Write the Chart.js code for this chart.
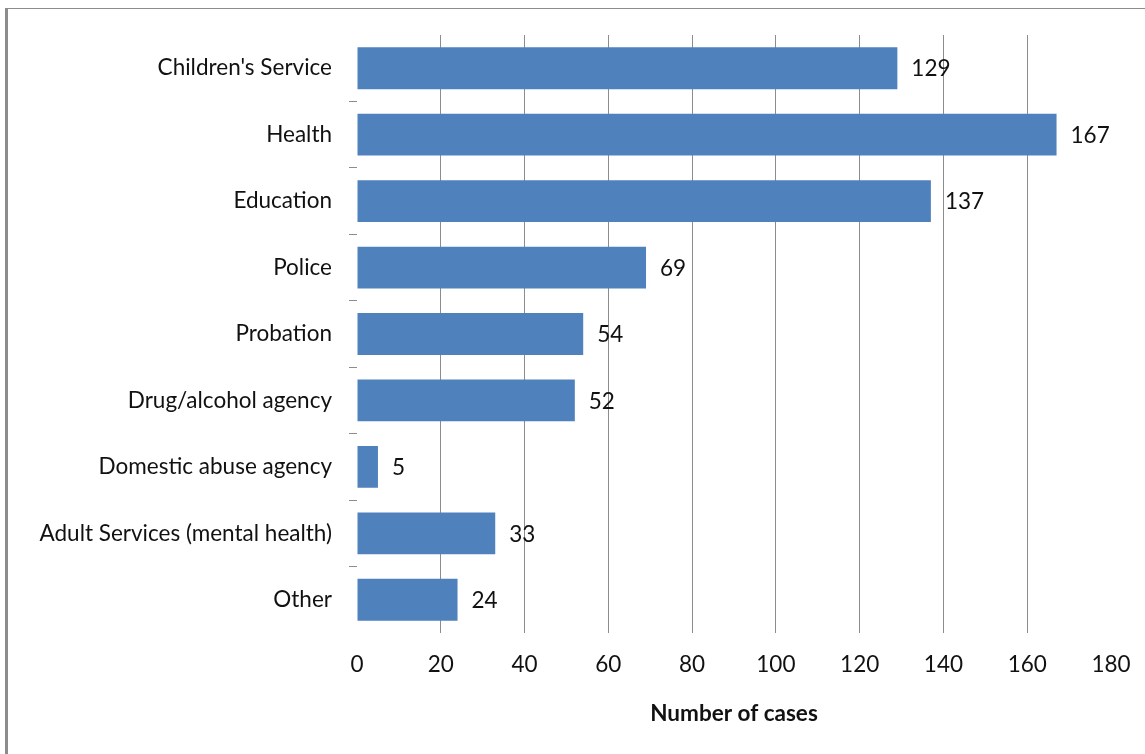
<!DOCTYPE html>
<html>
<head>
<meta charset="utf-8">
<script src="https://cdn.jsdelivr.net/npm/chart.js@4/dist/chart.umd.min.js"></script>
<style>
  html, body { margin: 0; padding: 0; background: #fff; }
  #wrap { position: relative; width: 1145px; height: 754px; overflow: hidden; }
  #frame { position: absolute; left: 5px; top: 8px; width: 1160px; height: 760px;
           border-left: 3px solid #8c8c8c; border-top: 1px solid #8c8c8c; box-sizing: border-box; }
  canvas { position: absolute; left: 0; top: 0; }
</style>
</head>
<body>
<div id="wrap">
  <div id="frame"></div>
  <canvas id="chart" width="1145" height="754"></canvas>
</div>
<script>
const categories = [
  "Children's Service",
  "Health",
  "Education",
  "Police",
  "Probation",
  "Drug/alcohol agency",
  "Domestic abuse agency",
  "Adult Services (mental health)",
  "Other"
];
const cases = [129, 167, 137, 69, 54, 52, 5, 33, 24];
const xTicks = [0, 20, 40, 60, 80, 100, 120, 140, 160, 180];
const axisTitle = "Number of cases";

const FONT = "Lato, 'Liberation Sans', sans-serif";
const SIZE = 22.5;
const GRID = "#8c8c8c";

// Writes each bar's value just past its end.
const valueLabels = {
  id: 'valueLabels',
  afterDatasetsDraw(chart) {
    const ctx = chart.ctx;
    const meta = chart.getDatasetMeta(0);
    ctx.save();
    ctx.font = SIZE + "px " + FONT;
    ctx.fillStyle = "#111";
    ctx.textAlign = "left";
    ctx.textBaseline = "middle";
    meta.data.forEach((bar, i) => {
      ctx.fillText(String(cases[i]), bar.x + 14, bar.y + 1);
    });
    ctx.restore();
  }
};

new Chart(document.getElementById('chart'), {
  type: 'bar',
  data: {
    labels: categories,
    datasets: [{
      data: cases,
      backgroundColor: '#4f81bd',
      borderWidth: 0,
      categoryPercentage: 1,
      barPercentage: 0.63
    }]
  },
  plugins: [valueLabels],
  options: {
    indexAxis: 'y',
    responsive: false,
    animation: false,
    layout: { padding: { top: 35, right: 34, bottom: 0, left: 0 } },
    plugins: { legend: { display: false }, tooltip: { enabled: false } },
    scales: {
      x: {
        min: 0, max: 180,
        afterBuildTicks(scale) { scale.ticks = xTicks.map(v => ({ value: v })); },
        afterFit(scale) {
          scale.height = 121;
          scale.paddingLeft = 0;
          scale.paddingRight = 0;
        },
        border: { display: false },
        grid: {
          drawTicks: false,
          lineWidth: 1,
          color: (c) => (c.tick && (c.tick.value === 0 || c.tick.value === 180)) ? 'rgba(0,0,0,0)' : GRID
        },
        ticks: { padding: 18, color: '#111', font: { family: FONT, size: SIZE } },
        title: {
          display: true, text: axisTitle, color: '#111',
          font: { family: FONT, size: SIZE, weight: 'bold' },
          padding: { top: 0, bottom: 27 }
        }
      },
      y: {
        afterFit(scale) { scale.width = 357; },
        border: { display: false },
        grid: {
          drawOnChartArea: false,
          drawTicks: true,
          tickLength: 8,
          color: (c) => (c.index === undefined || c.index === 0) ? 'rgba(0,0,0,0)' : GRID
        },
        ticks: { padding: 17, color: '#111', font: { family: FONT, size: SIZE } }
      }
    }
  }
});
</script>
</body>
</html>
